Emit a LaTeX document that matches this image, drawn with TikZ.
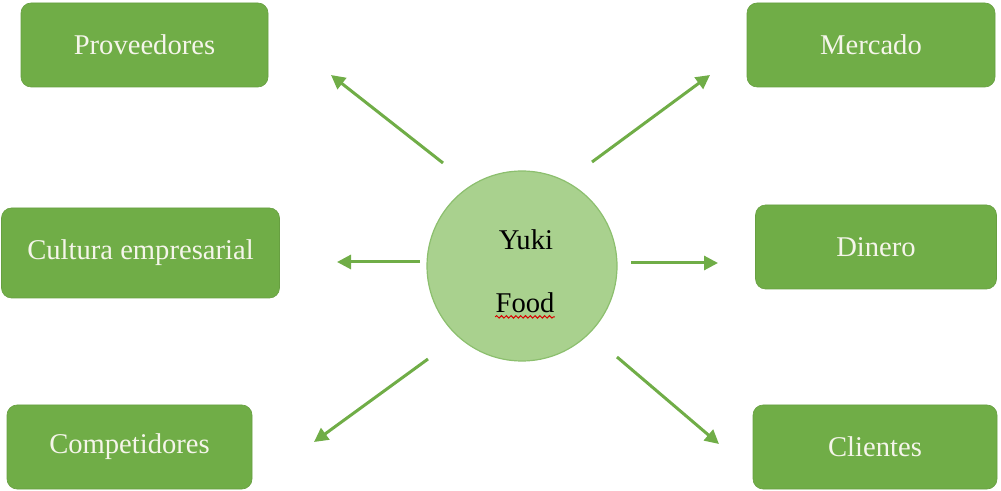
\documentclass[tikz,border=0pt]{standalone}
\usepackage{fontspec}
\setmainfont{Liberation Serif}
\usetikzlibrary{arrows.meta,decorations.pathmorphing}
\definecolor{boxgreen}{HTML}{70AD47}
\definecolor{ballgreen}{HTML}{A9D18E}
\definecolor{ballline}{HTML}{8CBF6E}
\definecolor{boxtext}{HTML}{F5F5EA}
\def\labelfont{\fontsize{14.3}{17}\selectfont}

\begin{document}
\begin{tikzpicture}[x=0.5pt,y=-0.5pt,
    box/.style={rectangle, rounded corners=5pt, fill=boxgreen, draw=boxgreen!92!black,
        line width=0.3pt, text=boxtext, minimum height=42pt, inner sep=0pt, font=\labelfont},
    ball/.style={circle, fill=ballgreen, draw=ballline, line width=0.6pt,
        minimum size=95pt, inner sep=0pt},
    link/.style={draw=boxgreen, line width=1.5pt, -{Triangle[length=7pt,width=7pt]}}]
    \useasboundingbox (0,0) rectangle (1001,491);

    \node[box, minimum width=123.5pt] (prov) at (144.5,45) {Proveedores};
    \node[box, minimum width=124pt] (merc) at (871,45) {Mercado};
    \node[box, minimum width=139pt, minimum height=45pt] (cult) at (140.5,253) {Cultura empresarial};
    \node[box, minimum width=120.5pt] (din) at (876,247) {Dinero};
    \node[box, minimum width=122.5pt] (comp) at (129.5,447) {Competidores};
    \node[box, minimum width=122pt] (cli) at (875,447) {Clientes};

    \node[ball] (yuki) at (522,266) {};
    \node[anchor=base, inner sep=0pt, font=\labelfont] (yukitxt) at (526,250) {Yuki};
    \node[anchor=base, inner sep=0pt, font=\labelfont] (foodtxt) at (525,313) {Food};
    \draw[red!85!black, line width=0.5pt, decorate,
        decoration={snake, amplitude=0.6pt, segment length=2.4pt}]
        ([yshift=-1.6pt]foodtxt.south west) -- ([yshift=-1.6pt]foodtxt.south east);

    \coordinate (p0) at (443,163); \coordinate (p1) at (331,75);
    \coordinate (m0) at (592,162); \coordinate (m1) at (710,75);
    \coordinate (c0) at (420,262); \coordinate (c1) at (337,262);
    \coordinate (d0) at (631,263); \coordinate (d1) at (718,263);
    \coordinate (k0) at (428,359); \coordinate (k1) at (314,442);
    \coordinate (l0) at (617,357); \coordinate (l1) at (719,444);

    \draw[link] (p0) -- (p1);
    \draw[link] (m0) -- (m1);
    \draw[link] (c0) -- (c1);
    \draw[link] (d0) -- (d1);
    \draw[link] (k0) -- (k1);
    \draw[link] (l0) -- (l1);
\end{tikzpicture}
\end{document}
